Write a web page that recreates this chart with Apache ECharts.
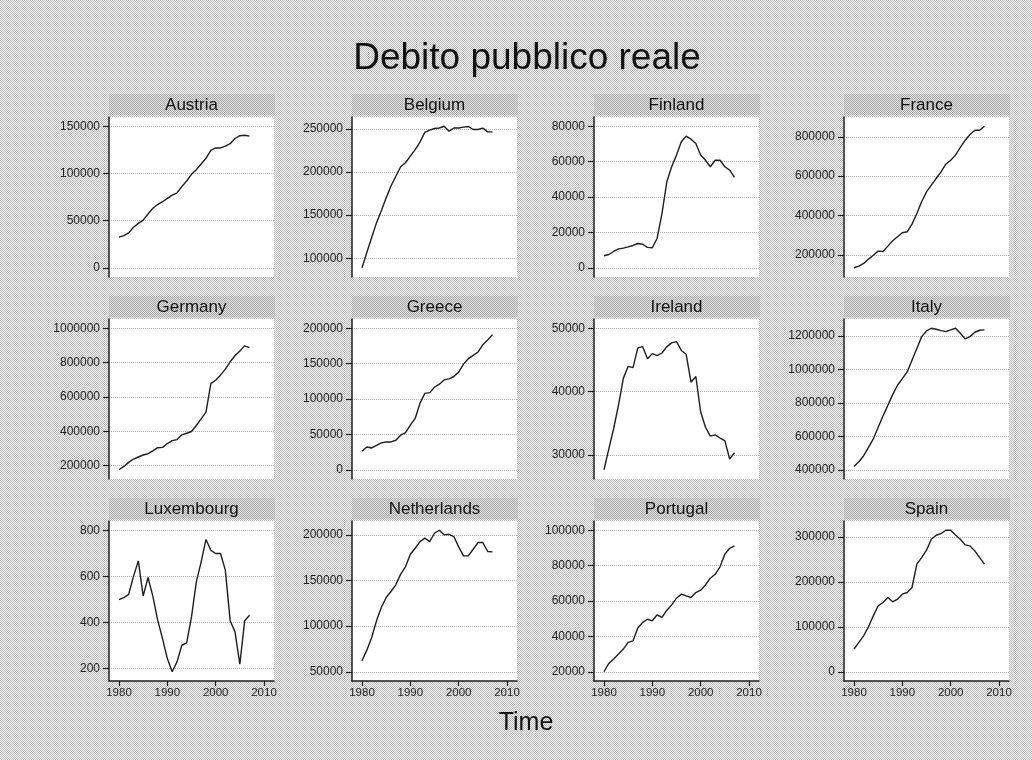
<!DOCTYPE html>
<html>
<head>
<meta charset="utf-8">
<script src="https://cdn.jsdelivr.net/npm/echarts@6/dist/echarts.min.js"></script>
<style>
html, body { margin: 0; padding: 0; background: #fff; }
#chart { width: 1032px; height: 760px; }
</style>
</head>
<body>
<div id="chart"></div>
<script>
// Real public debt by country, 1980-2007
const years = [1980, 1981, 1982, 1983, 1984, 1985, 1986, 1987, 1988, 1989,
               1990, 1991, 1992, 1993, 1994, 1995, 1996, 1997, 1998, 1999,
               2000, 2001, 2002, 2003, 2004, 2005, 2006, 2007];

const austria = [32500, 34000, 37000, 43000, 47000, 50500, 57000, 63000, 67000, 70000,
                 73500, 77000, 79500, 86000, 92000, 99000, 104000, 110000, 116000, 124500,
                 127000, 127000, 129000, 131500, 137000, 140000, 140500, 139500];
const belgium = [89000, 106600, 124000, 141000, 155000, 170000, 183700, 195000, 206000, 210700,
                 218400, 226000, 234600, 246000, 248500, 250400, 251000, 253000, 247300, 251000,
                 251000, 252000, 252700, 249200, 249200, 250800, 246500, 246500];
const finland = [6800, 7500, 9200, 10700, 11100, 11800, 12600, 13700, 13300, 11500,
                 11300, 16700, 30800, 48600, 57100, 63700, 71200, 74400, 72700, 70200,
                 63700, 60800, 57100, 60800, 60800, 57100, 55200, 51100];
const france = [134000, 142000, 156000, 178000, 198000, 218600, 217000, 244000, 271000, 291500,
                312000, 317000, 356000, 410000, 469500, 520000, 554000, 588000, 622000, 661000,
                681000, 707000, 746000, 783000, 812000, 834000, 834000, 854000];
const germany = [176600, 196000, 219500, 239000, 250700, 262400, 270000, 286000, 305000, 307000,
                 329000, 346000, 352000, 379500, 389000, 399000, 434000, 473000, 512000, 678000,
                 697500, 727000, 762000, 805000, 840000, 867000, 898000, 887000];
const greece = [26000, 32200, 30800, 34600, 37900, 39300, 39300, 41700, 48800, 52600,
                63000, 72500, 93900, 108000, 109000, 116600, 120900, 127000, 128500, 131800,
                138000, 149300, 157000, 161600, 166400, 176800, 183400, 191000];
const ireland = [27700, 31000, 34200, 37900, 42100, 44000, 43800, 46900, 47100, 45200,
                 46000, 45700, 46100, 47100, 47700, 47900, 46500, 45900, 41500, 42400,
                 36800, 34400, 33000, 33200, 32700, 32300, 29400, 30400];
const italy = [420000, 448000, 484000, 534000, 584000, 654000, 721000, 785000, 849000, 905000,
               945000, 985000, 1055000, 1125000, 1196000, 1230000, 1246000, 1240000, 1232000, 1226000,
               1236000, 1246000, 1216000, 1182000, 1196000, 1222000, 1234000, 1236000];
const luxembourg = [499, 508, 522, 600, 667, 514, 595, 514, 410, 330,
                    243, 186, 229, 301, 311, 424, 576, 663, 760, 713,
                    699, 699, 627, 407, 359, 219, 407, 431];
const netherlands = [62000, 73700, 87600, 105800, 120400, 131400, 138000, 145300, 157000, 165000,
                     178800, 185400, 192700, 196400, 192700, 201800, 205100, 200000, 200700, 198200,
                     186900, 177000, 177000, 184300, 191600, 191600, 181800, 181400];
const portugal = [20000, 24700, 27200, 30000, 32800, 36600, 37500, 44700, 47900, 49700,
                  48800, 52200, 50700, 54800, 57800, 61600, 63900, 62900, 62000, 64800,
                  66100, 69100, 72900, 75100, 79300, 86400, 89800, 91100];
const spain = [50400, 65200, 80000, 100000, 124400, 146700, 154100, 165200, 155600, 161500,
               172600, 176300, 187400, 239300, 254000, 270400, 294800, 303700, 307400, 314800,
               314800, 304400, 294800, 282200, 280000, 268900, 254000, 239300];

// Tick labels
const xTicks = [1980, 1990, 2000, 2010];
const austriaTicks = [0, 50000, 100000, 150000];
const belgiumTicks = [100000, 150000, 200000, 250000];
const finlandTicks = [0, 20000, 40000, 60000, 80000];
const franceTicks = [200000, 400000, 600000, 800000];
const germanyTicks = [200000, 400000, 600000, 800000, 1000000];
const greeceTicks = [0, 50000, 100000, 150000, 200000];
const irelandTicks = [30000, 40000, 50000];
const italyTicks = [400000, 600000, 800000, 1000000, 1200000];
const luxembourgTicks = [200, 400, 600, 800];
const netherlandsTicks = [50000, 100000, 150000, 200000];
const portugalTicks = [20000, 40000, 60000, 80000, 100000];
const spainTicks = [0, 100000, 200000, 300000];

const countries = ['Austria', 'Belgium', 'Finland', 'France', 'Germany', 'Greece',
                   'Ireland', 'Italy', 'Luxembourg', 'Netherlands', 'Portugal', 'Spain'];
const seriesValues = [austria, belgium, finland, france, germany, greece,
                      ireland, italy, luxembourg, netherlands, portugal, spain];
const yTicks = [austriaTicks, belgiumTicks, finlandTicks, franceTicks, germanyTicks, greeceTicks,
                irelandTicks, italyTicks, luxembourgTicks, netherlandsTicks, portugalTicks, spainTicks];

// Layout of the 4 x 3 panel grid
const colLeft = [109, 352, 594, 844];
const rowTop = [117, 319, 521];
const plotW = 165, plotH = 160;
const xPad = 30 * 10 / 145;   // plot-region margin on the year axis
const yPadFrac = 9.25 / 141.5; // plot-region margin on the value axes
const FONT = "'Liberation Sans', Arial, Helvetica, sans-serif";
const INK = '#1e1e1e';

function stipple(dark, light) {
  const c = document.createElement('canvas');
  c.width = 2; c.height = 2;
  const g = c.getContext('2d');
  g.fillStyle = light; g.fillRect(0, 0, 2, 2);
  g.fillStyle = dark; g.fillRect(0, 0, 1, 1); g.fillRect(1, 1, 1, 1);
  return { image: c, repeat: 'repeat' };
}
const bgPattern = stipple('#b4b4b4', '#fafafa');
const stripPattern = stipple('#a2a2a2', '#e8e8e8');

const grids = [], xAxes = [], yAxes = [], series = [], graphics = [];

countries.forEach((name, i) => {
  const r = Math.floor(i / 4), c = i % 4;
  const left = colLeft[c], top = rowTop[r];
  const vals = seriesValues[i], ticks = yTicks[i];
  const lo = Math.min(Math.min(...vals), ticks[0]);
  const hi = Math.max(Math.max(...vals), ticks[ticks.length - 1]);
  const pad = (hi - lo) * yPadFrac;

  grids.push({ left, top, width: plotW, height: plotH, show: true,
               backgroundColor: '#ffffff', borderWidth: 0 });

  xAxes.push({
    gridIndex: i, type: 'value', min: 1980 - xPad, max: 2010 + xPad,
    show: r === 2,
    axisLine: { show: true, onZero: false, lineStyle: { color: INK, width: 1.5 } },
    axisTick: { show: true, customValues: xTicks, length: 5, lineStyle: { color: INK, width: 1.2 } },
    axisLabel: { customValues: xTicks, formatter: v => String(v), fontSize: 11.5,
                 color: INK, fontFamily: FONT, margin: 6 },
    splitLine: { show: false }
  });

  yAxes.push({
    gridIndex: i, type: 'value', min: lo - pad, max: hi + pad,
    axisLine: { show: true, onZero: false, lineStyle: { color: INK, width: 1.5 } },
    axisTick: { show: true, customValues: ticks, length: 6, lineStyle: { color: INK, width: 1.2 } },
    axisLabel: { customValues: ticks, formatter: v => String(v), fontSize: 12,
                 color: INK, fontFamily: FONT, margin: 9 },
    splitLine: { show: true, customValues: ticks,
                 lineStyle: { type: 'dotted', color: '#b4b4b4', width: 1 } }
  });

  series.push({
    type: 'line', xAxisIndex: i, yAxisIndex: i,
    data: years.map((y, k) => [y, vals[k]]),
    showSymbol: false, silent: true,
    lineStyle: { color: INK, width: 1.4 }
  });

  graphics.push({
    type: 'rect', shape: { x: left, y: top - 23, width: plotW + 1, height: 21 },
    style: { fill: stripPattern }, silent: true, z: 10
  });
  graphics.push({
    type: 'text', x: left + plotW / 2, y: top - 12, silent: true, z: 11,
    style: { text: name, fill: '#111', font: `17px ${FONT}`,
             textAlign: 'center', textVerticalAlign: 'middle' }
  });
});

graphics.push({
  type: 'text', x: 527, y: 59, silent: true,
  style: { text: 'Debito pubblico reale', fill: '#111', font: `37px ${FONT}`,
           textAlign: 'center', textVerticalAlign: 'middle' }
});
graphics.push({
  type: 'text', x: 526, y: 723, silent: true,
  style: { text: 'Time', fill: '#111', font: `25px ${FONT}`,
           textAlign: 'center', textVerticalAlign: 'middle' }
});

const chart = echarts.init(document.getElementById('chart'), null, { renderer: 'canvas' });
chart.setOption({
  animation: false,
  backgroundColor: bgPattern,
  grid: grids,
  xAxis: xAxes,
  yAxis: yAxes,
  series: series,
  graphic: graphics
});
</script>
</body>
</html>
